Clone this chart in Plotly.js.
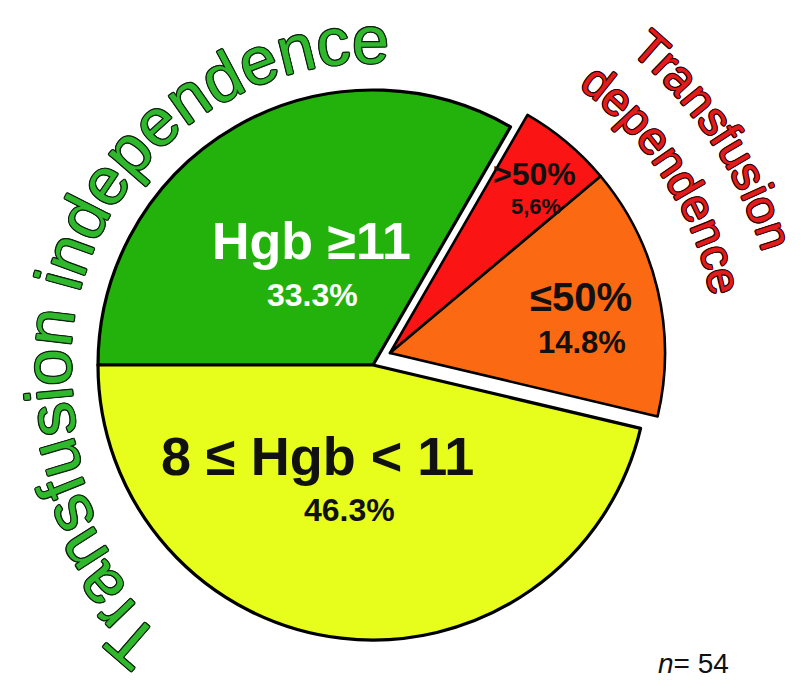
<!DOCTYPE html>
<html>
<head>
<meta charset="utf-8">
<script src="https://cdn.plot.ly/plotly-3.0.1.min.js"></script>
<style>
  html, body { margin: 0; padding: 0; background: #fff; }
  #chart { width: 806px; height: 695px; }
</style>
</head>
<body>
<div id="chart"></div>
<script>
// patient groups (n = 54), clockwise from 9 o'clock
var groups = ["Hgb ≥11", ">50%", "≤50%", "8 ≤ Hgb < 11"];
var patients = [18, 3, 8, 25];
var shares = ["33.3%", "5,6%", "14.8%", "46.3%"];
var colors = ["#23b20b", "#fa1414", "#fb6a12", "#e7fd1b"];
var pulled = [false, true, true, false];   // transfusion dependent part sits apart

var W = 806, H = 695;
var clear = "rgba(0,0,0,0)";

// where the pie sits, in pixels
var cx = 373, cy = 365, r = 275;
var shift = [17, -12];

function dom(dx, dy) {
  return {
    x: [(cx - r + dx) / W, (cx + r + dx) / W],
    y: [1 - (cy + r + dy) / H, 1 - (cy - r + dy) / H]
  };
}

function pieTrace(keep, d, lw) {
  return {
    type: "pie",
    labels: groups,
    values: patients,
    sort: false,
    direction: "clockwise",
    rotation: -90,
    textinfo: "none",
    hoverinfo: "skip",
    showlegend: false,
    domain: d,
    marker: {
      colors: colors.map((c, i) => keep(i) ? c : clear),
      line: {
        color: "#000",
        width: colors.map((c, i) => keep(i) ? lw : 0)
      }
    }
  };
}

var data = [
  pieTrace(i => !pulled[i], dom(0, 0), 3.2),
  pieTrace(i => pulled[i], dom(shift[0], shift[1]), 2.6)
];

// labels inside the slices
var FONT = '"Liberation Sans", Arial, sans-serif';
var labelPos = [[311, 241], [534, 174], [581, 297], [317, 456]];
var sharePos = [[312, 295], [536, 207], [582, 342], [349, 510]];
var labelSize = [52, 32, 40, 54];
var shareSize = [32, 22, 31, 32];
var textColor = ["#fff", "#111", "#111", "#111"];

function px(x, y) { return { x: x / W, y: 1 - y / H }; }

var annotations = [];
groups.forEach(function (g, i) {
  var p = px(labelPos[i][0], labelPos[i][1]);
  annotations.push({ x: p.x, y: p.y, xref: "paper", yref: "paper", xanchor: "center", yanchor: "middle",
    showarrow: false, text: "<b>" + g + "</b>", font: { family: FONT, size: labelSize[i], color: textColor[i] } });
  var q = px(sharePos[i][0], sharePos[i][1]);
  annotations.push({ x: q.x, y: q.y, xref: "paper", yref: "paper", xanchor: "center", yanchor: "middle",
    showarrow: false, text: "<b>" + shares[i] + "</b>", font: { family: FONT, size: shareSize[i], color: textColor[i] } });
});

// curved captions, one letter per annotation
var FONT_ARC = '"Liberation Sans", Arial, sans-serif';
var ctx = document.createElement("canvas").getContext("2d");
function measure(s, size) { ctx.font = size + "px " + FONT_ARC; return ctx.measureText(s).width; }

function outline(c, w) {
  var s = [];
  for (var k = 0; k < 8; k++) {
    var a = k * Math.PI / 4;
    s.push((w * Math.cos(a)).toFixed(2) + "px " + (w * Math.sin(a)).toFixed(2) + "px 0 " + c);
  }
  return s.join(", ");
}

// rb(a): baseline radius at compass angle a; a1/a2: angle of first and last letter centre
function arcLetters(str, rb, a1, a2, color, edge) {
  var n = str.length, mids = [];
  for (var i = 0; i < n; i++) {
    mids.push((measure(str.slice(0, i), 100) + measure(str.slice(0, i + 1), 100)) / 2);
  }
  // walk along the baseline and store arc length
  var steps = 2000, acc = [0], da = (a2 - a1) / steps;
  for (var s = 1; s <= steps; s++) {
    var am = a1 + (s - 0.5) * da;
    acc.push(acc[s - 1] + rb(am) * da * Math.PI / 180);
  }
  var size = 100 * acc[steps] / (mids[n - 1] - mids[0]);
  var out = [], k = 0;
  for (var j = 0; j < n; j++) {
    if (str[j] === " ") continue;
    var want = (mids[j] - mids[0]) * size / 100;
    while (k < steps && acc[k + 1] < want) k++;
    var f = k < steps ? (want - acc[k]) / (acc[k + 1] - acc[k]) : 0;
    var a = a1 + (k + f) * da;
    var rc = rb(a) + 0.347 * size;
    var t = a * Math.PI / 180;
    var p = px(cx + rc * Math.sin(t), cy - rc * Math.cos(t));
    var ang = ((a + 180) % 360 + 360) % 360 - 180;
    out.push({ x: p.x, y: p.y, xref: "paper", yref: "paper", xanchor: "center", yanchor: "middle",
      showarrow: false, text: str[j], textangle: ang,
      font: { family: FONT_ARC, size: size, color: color, shadow: edge } });
  }
  return out;
}

// left caption drifts away from the pie towards its start
function leftBase(a) { return 302 + 42 * Math.pow(Math.max(0, (265 - a) / 44), 1.5); }

annotations = annotations
  .concat(arcLetters("Transfusion independence", leftBase, 221, 359.5, "#2fb82c", outline("#0c200c", 1.2)))
  .concat(arcLetters("Transfusion", a => 405, 41.3, 72, "#e21c1c", outline("#2a0000", 1.1)))
  .concat(arcLetters("dependence", a => 345, 38.5, 76.5, "#e21c1c", outline("#2a0000", 1.1)));

var nPos = px(693, 663);
annotations.push({ x: nPos.x, y: nPos.y, xref: "paper", yref: "paper", xanchor: "center", yanchor: "middle",
  showarrow: false, text: "<i>n</i>= 54", font: { family: FONT, size: 28, color: "#111" } });

var layout = {
  width: W,
  height: H,
  margin: { l: 0, r: 0, t: 0, b: 0 },
  paper_bgcolor: "#fff",
  showlegend: false,
  annotations: annotations
};

Plotly.newPlot("chart", data, layout, { displayModeBar: false });
</script>
</body>
</html>
